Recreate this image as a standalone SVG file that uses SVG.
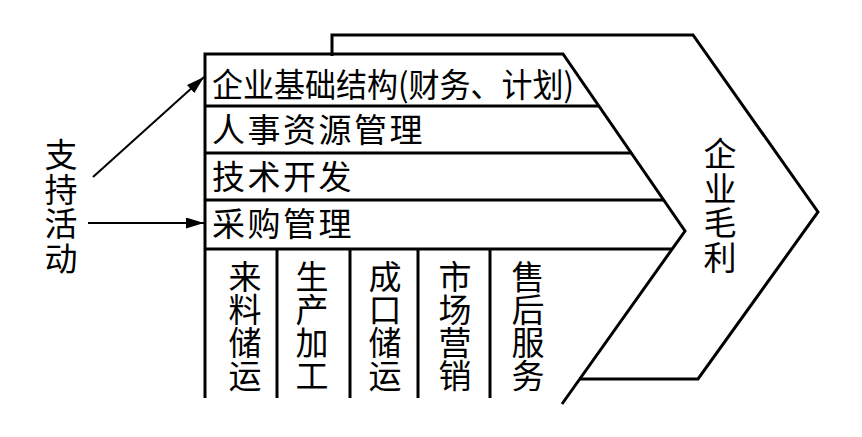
<svg xmlns="http://www.w3.org/2000/svg" width="862" height="437" viewBox="0 0 862 437">
  <style>
    .ln { fill: none; stroke: #000; stroke-width: 3; stroke-linejoin: miter; }
    .t { font-family: "Noto Sans CJK SC", "Noto Sans", sans-serif; font-size: 33px; fill: #000; }
    .row { letter-spacing: 2.5px; }
    .v { writing-mode: vertical-rl; text-orientation: upright; }
    .v2 { letter-spacing: 1.5px; }
    .arr { fill: none; stroke: #000; stroke-width: 2; }
  </style>
  <defs>
    <marker id="ah" markerUnits="userSpaceOnUse" markerWidth="20" markerHeight="12" refX="18" refY="5.5" orient="auto">
      <path d="M0,0 L18,5.5 L0,11 z" fill="#000"/>
    </marker>
  </defs>
  <rect width="862" height="437" fill="#fff"/>

  <g id="margin">
    <path class="ln" d="M332,56 L332,35 L693,35 L818,212 L698,379 L579,379"/>
    <text class="t v v2" x="720" y="137">企业毛利</text>
  </g>

  <g id="frame">
    <path class="ln" d="M205,398 L205,54 L563,54 L685,231 L562,404"/>
  </g>

  <g id="row-infrastructure">
    <line class="ln" x1="205" y1="106" x2="599" y2="106"/>
    <text class="t" x="212" y="97" textLength="362" lengthAdjust="spacingAndGlyphs">企业基础结构(财务、计划)</text>
  </g>
  <g id="row-hr">
    <line class="ln" x1="205" y1="153" x2="631" y2="153"/>
    <text class="t row" x="212" y="142">人事资源管理</text>
  </g>
  <g id="row-tech">
    <line class="ln" x1="205" y1="200" x2="664" y2="200"/>
    <text class="t row" x="212" y="189">技术开发</text>
  </g>
  <g id="row-purchase">
    <line class="ln" x1="205" y1="249" x2="672" y2="249"/>
    <text class="t row" x="212" y="236">采购管理</text>
  </g>

  <g id="col-inbound">
    <text class="t v" x="245" y="260">来料储运</text>
  </g>
  <g id="col-operations">
    <line class="ln" x1="277" y1="249" x2="277" y2="398"/>
    <text class="t v" x="312" y="260">生产加工</text>
  </g>
  <g id="col-outbound">
    <line class="ln" x1="350" y1="249" x2="350" y2="398"/>
    <text class="t v" x="385" y="260">成口储运</text>
  </g>
  <g id="col-marketing">
    <line class="ln" x1="418" y1="249" x2="418" y2="398"/>
    <text class="t v" x="455" y="260">市场营销</text>
  </g>
  <g id="col-service">
    <line class="ln" x1="490" y1="249" x2="490" y2="398"/>
    <text class="t v" x="528" y="260">售后服务</text>
  </g>

  <g id="support-label">
    <text class="t v v2" x="61" y="138">支持活动</text>
  </g>

  <g id="connectors">
    <line class="arr" x1="93" y1="177" x2="204" y2="77" marker-end="url(#ah)"/>
    <line class="arr" x1="88" y1="223" x2="204" y2="223" marker-end="url(#ah)"/>
  </g>
</svg>
